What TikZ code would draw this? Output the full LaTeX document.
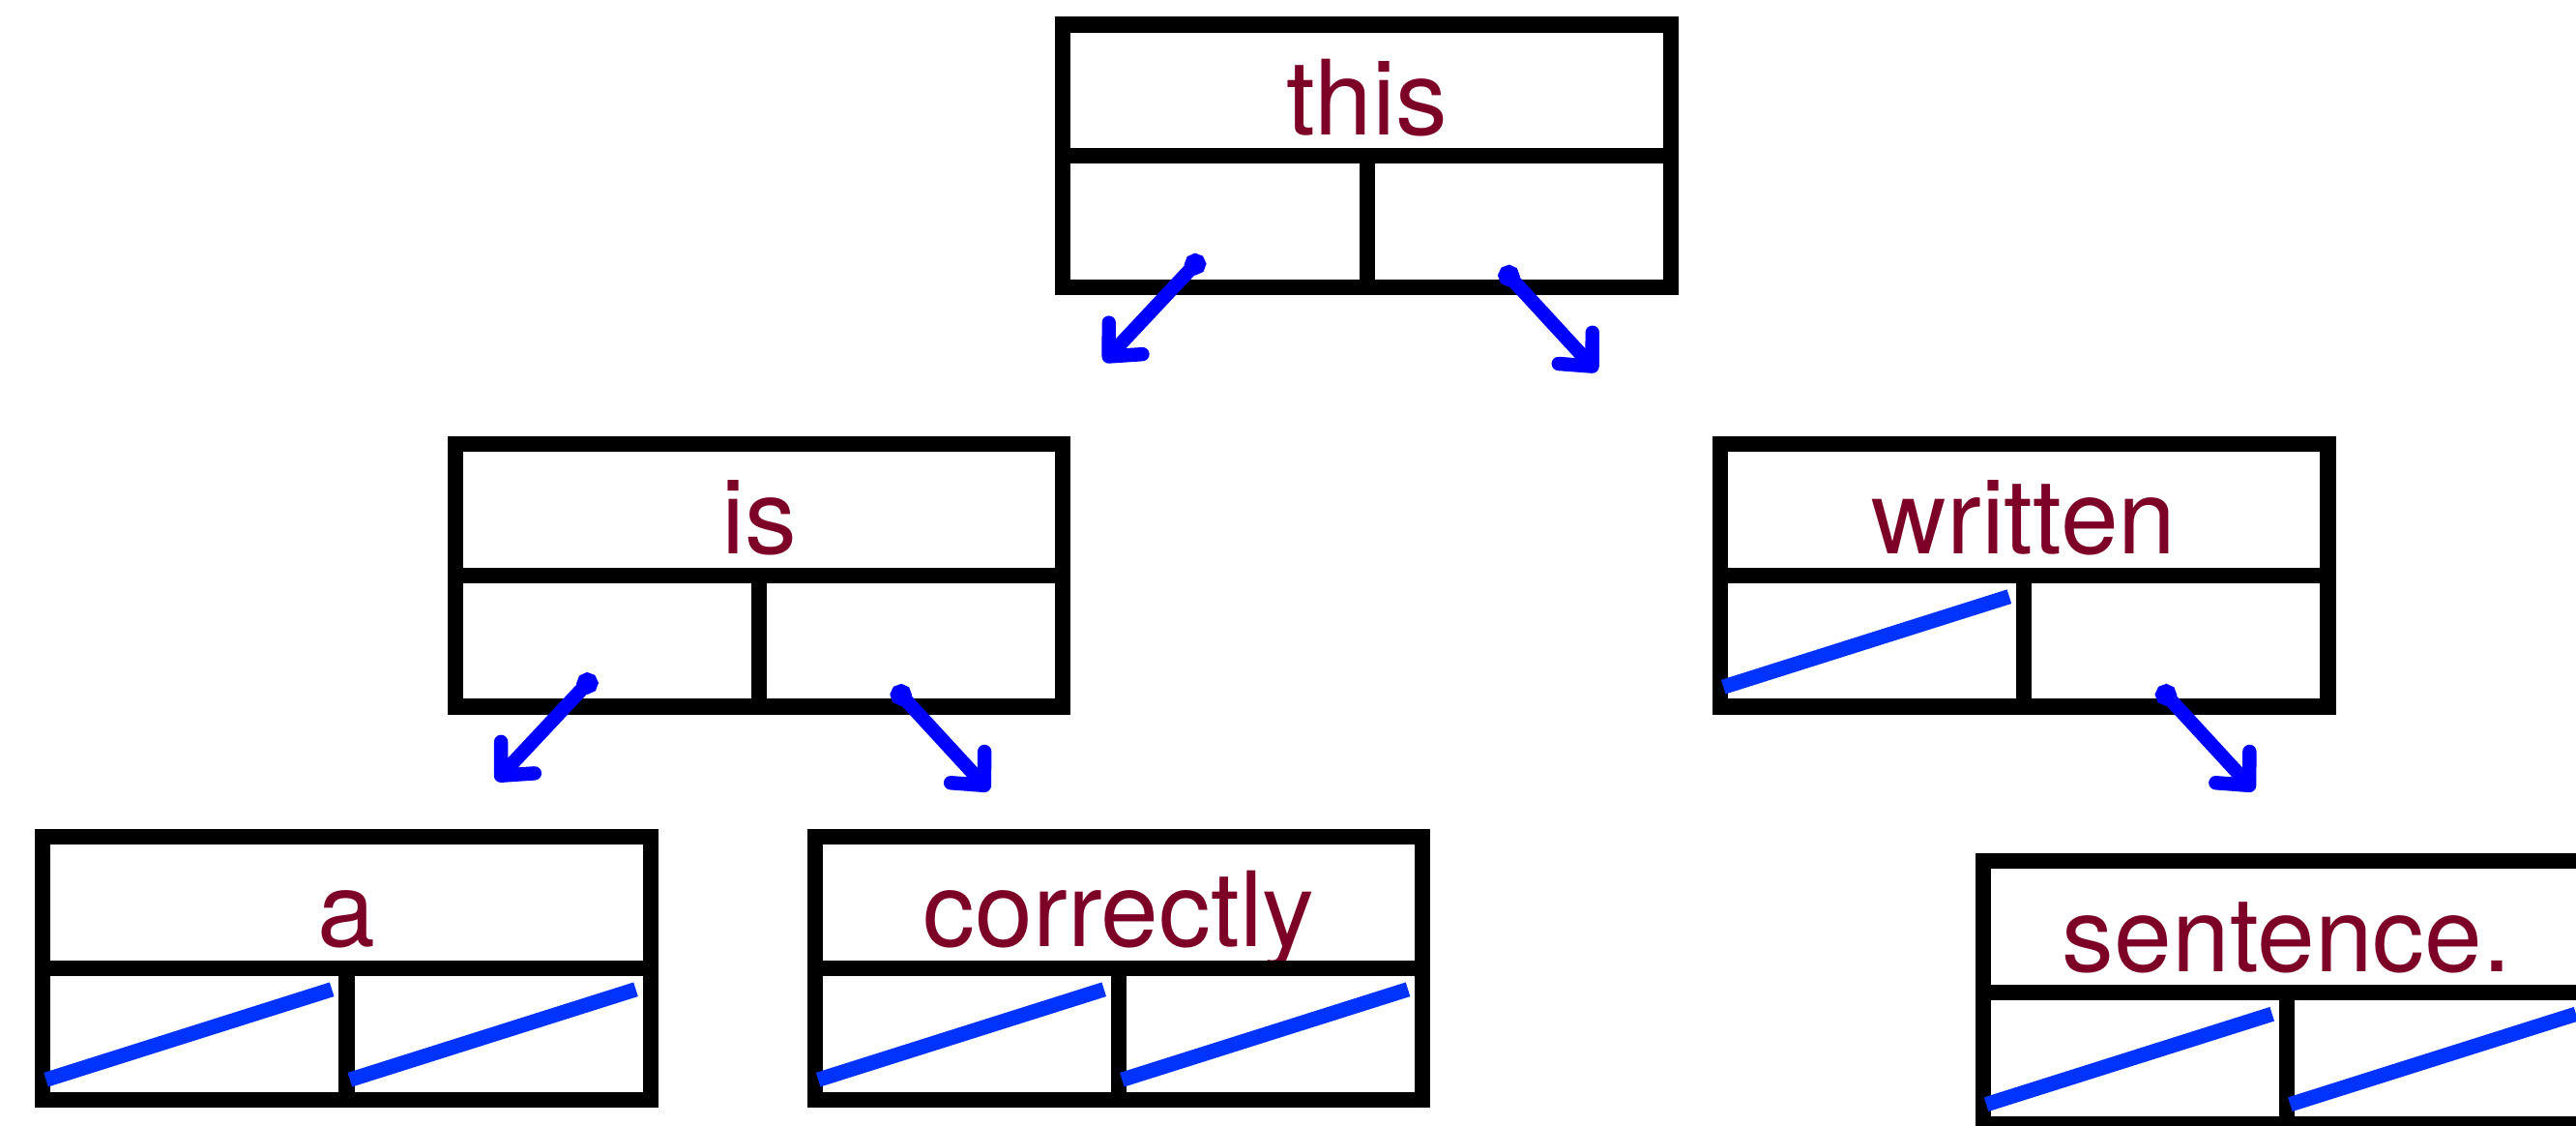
\documentclass[tikz,border=0pt]{standalone}
\usepackage{fontspec}
\setmainfont{TeX Gyre Heros}
\usepackage{xcolor}
\usetikzlibrary{positioning,arrows.meta}
\definecolor{wordred}{RGB}{125,0,38}
\definecolor{slashblue}{RGB}{0,51,255}
\definecolor{penblue}{RGB}{0,0,255}
\tikzset{
  wordcell/.style={draw,line width=0.095cm,minimum width=3.7cm,inner sep=0pt,outer sep=0pt,
            text height=0.67cm,text depth=0.13cm,text=wordred,
            font=\fontsize{18}{21}\selectfont},
  ptrcell/.style={draw,line width=0.095cm,minimum width=1.85cm,minimum height=0.8cm,
            inner sep=0pt,outer sep=0pt},
  nullslash/.style={slashblue,line width=0.09cm},
  ptr/.style={{Circle[length=1.3mm]}-{Straight Barb[round,length=1.5mm,width=2.8mm]},penblue,
            line width=0.085cm,line cap=round},
}
% one tree node: word on top, two pointer cells below
\newcommand{\treenode}[3]{%
  \node[wordcell,anchor=north west] (#1) at (#2) {#3};
  \node[ptrcell,anchor=north west] (#1-l) at (#1.south west) {};
  \node[ptrcell,anchor=north east] (#1-r) at (#1.south east) {};
  \coordinate (#1-ls) at ([shift={(0.85,0.19)}]#1-l.south west);
  \coordinate (#1-lt) at ([shift={(0.25,-0.45)}]#1-l.south west);
  \coordinate (#1-rs) at ([shift={(0.82,0.12)}]#1-r.south west);
  \coordinate (#1-rt) at ([shift={(1.40,-0.51)}]#1-r.south west);
}
\newcommand{\nullptr}[1]{%
  \draw[nullslash] ([shift={(0.02,0.12)}]#1.south west) -- ([shift={(-0.09,-0.13)}]#1.north east);
}

\begin{document}
\begin{tikzpicture}
  \useasboundingbox (0,0) rectangle (15.68,6.85);
  \treenode{this}{6.47,6.70}{this}
  \treenode{is}{2.77,4.15}{is}
  \treenode{written}{10.47,4.15}{written}
  \treenode{a}{0.26,1.76}{a}
  \treenode{correctly}{4.96,1.76}{correctly}
  \treenode{sentence}{12.07,1.61}{sentence.}
  % empty pointers
  \nullptr{written-l}
  \nullptr{a-l}
  \nullptr{a-r}
  \nullptr{correctly-l}
  \nullptr{correctly-r}
  \nullptr{sentence-l}
  \nullptr{sentence-r}
  % child pointers
  \draw[ptr] (this-ls) -- (this-lt);
  \draw[ptr] (this-rs) -- (this-rt);
  \draw[ptr] (is-ls) -- (is-lt);
  \draw[ptr] (is-rs) -- (is-rt);
  \draw[ptr] (written-rs) -- (written-rt);
\end{tikzpicture}
\end{document}
